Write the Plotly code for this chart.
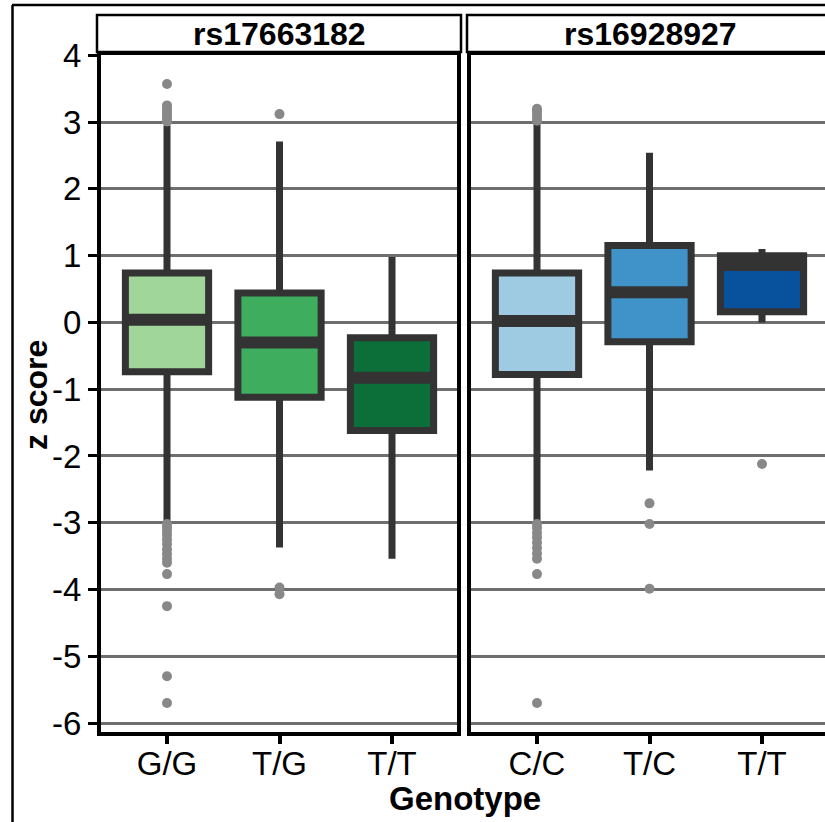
import plotly.graph_objects as go

W, H = 825, 822

panel_titles = ["rs17663182", "rs16928927"]
genotypes_1 = ["G/G", "T/G", "T/T"]
genotypes_2 = ["C/C", "T/C", "T/T"]
y_ticks = [-6, -5, -4, -3, -2, -1, 0, 1, 2, 3, 4]

# box statistics per panel: q1, median, q3, lower whisker, upper whisker
q1_1 = [-0.74, -1.12, -1.62]
med_1 = [0.04, -0.30, -0.83]
q3_1 = [0.74, 0.44, -0.23]
lo_1 = [-3.00, -3.37, -3.54]
hi_1 = [2.95, 2.71, 0.98]

q1_2 = [-0.78, -0.29, 0.16]
med_2 = [0.02, 0.45, 0.86]
q3_2 = [0.74, 1.15, 1.00]
lo_2 = [-3.00, -2.22, 0.00]
hi_2 = [3.00, 2.54, 1.10]

out_1 = [
    [3.57, 3.25, 3.21, 3.17, 3.13, 3.09, 3.05, 3.01, -3.02, -3.07, -3.12, -3.18,
     -3.25, -3.32, -3.40, -3.47, -3.54, -3.60, -3.77, -4.25, -5.30, -5.70],
    [3.12, -3.97, -4.07],
    [],
]
out_2 = [
    [3.02, 3.07, 3.12, 3.17, 3.20, -3.02, -3.08, -3.15, -3.22, -3.30, -3.38,
     -3.46, -3.54, -3.77, -5.70],
    [-2.71, -3.02, -3.99],
    [-2.12],
]

colors_1 = ["#a1d69b", "#3eae5e", "#0c6e38"]
colors_2 = ["#9ecae2", "#4093c8", "#08529d"]

positions = [1, 2, 3]
LINE = "#333333"
OUT = "#888888"
BOXW = 0.74

fig = go.Figure()

def add_panel(xa, ya, q1, med, q3, lo, hi, outs, cols):
    for i, p in enumerate(positions):
        fig.add_trace(go.Box(
            x=[p], q1=[q1[i]], median=[med[i]], q3=[q3[i]],
            lowerfence=[lo[i]], upperfence=[hi[i]],
            width=BOXW, whiskerwidth=0, fillcolor=cols[i],
            line=dict(color=LINE, width=7),
            boxpoints=False, xaxis=xa, yaxis=ya, showlegend=False, hoverinfo="skip",
        ))
        fig.add_trace(go.Scatter(
            x=[p - BOXW / 2, p + BOXW / 2], y=[med[i], med[i]], mode="lines",
            line=dict(color=LINE, width=12), xaxis=xa, yaxis=ya,
            showlegend=False, hoverinfo="skip",
        ))
        if outs[i]:
            fig.add_trace(go.Scatter(
                x=[p] * len(outs[i]), y=outs[i], mode="markers",
                marker=dict(color=OUT, size=10), xaxis=xa, yaxis=ya,
                showlegend=False, hoverinfo="skip",
            ))

add_panel("x", "y", q1_1, med_1, q3_1, lo_1, hi_1, out_1, colors_1)
add_panel("x2", "y2", q1_2, med_2, q3_2, lo_2, hi_2, out_2, colors_2)

FONT = "Liberation Sans, Arial, Helvetica, sans-serif"
pxu = 112.5
x1_dom = [101, 457]
x2_dom = [471, W]
c1, c2 = 167, 537
x1_range = [1 - (c1 - x1_dom[0]) / pxu, 1 + (x1_dom[1] - c1) / pxu]
x2_range = [1 - (c2 - x2_dom[0]) / pxu, 1 + (x2_dom[1] - c2) / pxu]
top_px, bot_px = 55, 732
ppu = 66.8
yrange = [4.0 - (bot_px - top_px) / ppu, 4.005]
ydom = [(H - bot_px) / H, (H - top_px) / H]

common_y = dict(range=yrange, tickvals=y_ticks, ticktext=[str(v) for v in y_ticks],
                showgrid=True, gridcolor="#6e6e6e", gridwidth=3, zeroline=False,
                showline=True, linecolor="black", linewidth=4, domain=ydom,
                automargin=False)
common_x = dict(showgrid=False, zeroline=False, showline=True, linecolor="black",
                linewidth=4, ticks="outside", ticklen=8, tickwidth=3.5,
                tickcolor="black", tickvals=positions, automargin=False,
                ticklabelstandoff=-9,
                tickfont=dict(size=33, color="black", family=FONT))

fig.update_layout(
    template="none",
    width=W, height=H, margin=dict(l=0, r=0, t=0, b=0, pad=0),
    paper_bgcolor="white", plot_bgcolor="white",
    font=dict(family=FONT, color="black"),
    xaxis=dict(**common_x, domain=[x1_dom[0] / W, x1_dom[1] / W], range=x1_range,
               ticktext=genotypes_1, mirror=True, anchor="y"),
    xaxis2=dict(**common_x, domain=[x2_dom[0] / W, 1.0], range=x2_range,
                ticktext=genotypes_2, mirror=True, anchor="y2"),
    yaxis=dict(**common_y, ticks="outside", ticklen=9, tickwidth=3, tickcolor="black",
               tickfont=dict(size=33, color="black", family=FONT), mirror=True,
               anchor="x"),
    yaxis2=dict(**common_y, showticklabels=False, ticks="", anchor="x2"),
)

shapes = []
# strips
for x0, x1 in [(97, 461), (467, 840)]:
    shapes.append(dict(type="rect", xref="paper", yref="paper",
                       x0=x0 / W, x1=x1 / W, y0=(H - 52) / H, y1=(H - 15) / H,
                       line=dict(color="black", width=2.5), fillcolor="white",
                       layer="above"))
# outer frame
shapes.append(dict(type="line", xref="paper", yref="paper",
                   x0=12 / W, x1=1.02, y0=(H - 5) / H, y1=(H - 5) / H,
                   line=dict(color="black", width=2.5)))
shapes.append(dict(type="line", xref="paper", yref="paper",
                   x0=12.5 / W, x1=12.5 / W, y0=-0.02, y1=(H - 5) / H,
                   line=dict(color="black", width=2.5)))
fig.update_layout(shapes=shapes)

TFONT = dict(size=32, family=FONT, color="black")
annotations = [
    dict(text="<b>%s</b>" % panel_titles[0], x=279 / W, y=(H - 34) / H, xref="paper",
         yref="paper", showarrow=False, font=TFONT, xanchor="center", yanchor="middle"),
    dict(text="<b>%s</b>" % panel_titles[1], x=650 / W, y=(H - 34) / H, xref="paper",
         yref="paper", showarrow=False, font=TFONT, xanchor="center", yanchor="middle"),
    dict(text="<b>Genotype</b>", x=465 / W, y=(H - 798) / H, xref="paper", yref="paper",
         showarrow=False, font=dict(size=33, family=FONT, color="black"),
         xanchor="center", yanchor="middle"),
    dict(text="<b>z score</b>", x=36 / W, y=(H - 395) / H, xref="paper", yref="paper",
         showarrow=False, textangle=-90, font=TFONT, xanchor="center", yanchor="middle"),
]
fig.update_layout(annotations=annotations)

fig.write_html("out.html")
